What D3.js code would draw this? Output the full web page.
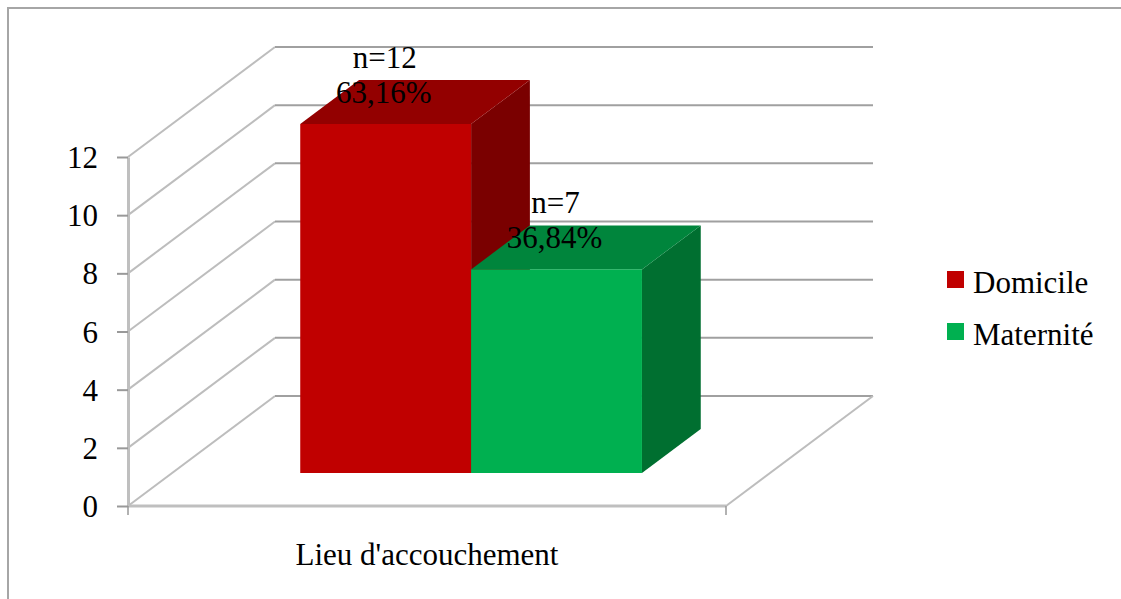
<!DOCTYPE html>
<html lang="fr">
<head>
<meta charset="UTF-8">
<title>Lieu d'accouchement</title>
<style>
    body { margin: 0; background: #fff; }
    svg { display: block; }
    text { font-family: "Liberation Serif", "Times New Roman", serif; fill: #000; }
</style>
</head>
<body>
<div id="chart"></div>
<script src="https://d3js.org/d3.v7.min.js"></script>
<script>
    // data
    const categories = ["Lieu d'accouchement"];
    const series = ["Domicile", "Maternité"];
    const values = [12, 7];
    const countLabels = ["n=12", "n=7"];
    const percentLabels = ["63,16%", "36,84%"];
    const yTicks = [0, 2, 4, 6, 8, 10, 12];
    const colors = ["#C00000", "#00B050"];
    const topColors = ["#930000", "#00853C"];
    const sideColors = ["#7A0000", "#006F30"];

    const W = 1121, H = 599;
    const FONT = "31px";
    const svg = d3.select("#chart").append("svg")
        .attr("width", W)
        .attr("height", H);

    // outer frame (right and bottom edges fall outside the picture)
    svg.append("rect")
        .attr("x", 8).attr("y", 8)
        .attr("width", 1300).attr("height", 800)
        .attr("fill", "none")
        .attr("stroke", "#a6a6a6")
        .attr("stroke-width", 2);

    // 3d projection: depth 0 = front plane, 1 = back wall
    const DX = 147, DY = 110;
    const y = d3.scaleLinear().domain([0, 12]).range([506, 157]);
    const x0 = d3.scaleBand().domain(categories).range([128, 726])
        .paddingInner(0).paddingOuter(0.375);
    const x1 = d3.scaleBand().domain(series).range([0, x0.bandwidth()]);
    const proj = (px, v, d) => [px + d * DX, y(v) - d * DY];

    const grid = svg.append("g");
    // side wall diagonals + back wall lines
    yTicks.forEach(v => {
        const a = proj(128, v, 0), b = proj(128, v, 1), c = proj(726, v, 1);
        grid.append("line")
            .attr("x1", a[0]).attr("y1", a[1]).attr("x2", b[0]).attr("y2", b[1])
            .attr("stroke", "#bdbdbd").attr("stroke-width", 2);
        grid.append("line")
            .attr("x1", b[0]).attr("y1", b[1]).attr("x2", c[0]).attr("y2", c[1])
            .attr("stroke", "#a0a0a0").attr("stroke-width", 2);
    });
    // floor right edge
    const f0 = proj(726, 0, 0), f1 = proj(726, 0, 1);
    grid.append("line")
        .attr("x1", f0[0]).attr("y1", f0[1]).attr("x2", f1[0]).attr("y2", f1[1])
        .attr("stroke", "#bdbdbd").attr("stroke-width", 2);

    // y axis
    const yAxis = svg.append("g")
        .attr("transform", "translate(128,0)")
        .call(d3.axisLeft(y).tickValues(yTicks).tickSize(11).tickSizeOuter(0).tickPadding(19));
    yAxis.attr("font-family", null).attr("font-size", null);
    yAxis.select(".domain").attr("stroke", "#bfbfbf").attr("stroke-width", 3);
    yAxis.selectAll(".tick line").attr("stroke", "#999").attr("stroke-width", 2);
    yAxis.selectAll(".tick text")
        .style("font-size", FONT)
        .attr("dy", "0.34em")
        .attr("fill", "#000");

    // floor front edge + ticks
    svg.append("line")
        .attr("x1", 128).attr("y1", y(0)).attr("x2", 726).attr("y2", y(0))
        .attr("stroke", "#bfbfbf").attr("stroke-width", 3);
    [128, 726].forEach(px => {
        svg.append("line")
            .attr("x1", px).attr("y1", y(0)).attr("x2", px).attr("y2", y(0) + 9)
            .attr("stroke", "#999").attr("stroke-width", 1.5);
    });

    // bars
    const dFront = 0.3, dBack = 0.7;
    const poly = pts => pts.map(p => p.join(",")).join(" ");
    const bars = svg.append("g");
    series.forEach((s, i) => {
        const xl = x0(categories[0]) + x1(s);
        const xr = xl + x1.bandwidth();
        const v = values[i];
        const g = bars.append("g");
        g.append("polygon")
            .attr("points", poly([proj(xr, 0, dFront), proj(xr, v, dFront), proj(xr, v, dBack), proj(xr, 0, dBack)]))
            .attr("fill", sideColors[i]);
        g.append("polygon")
            .attr("points", poly([proj(xl, v, dFront), proj(xr, v, dFront), proj(xr, v, dBack), proj(xl, v, dBack)]))
            .attr("fill", topColors[i]);
        const fl = proj(xl, v, dFront), fb = proj(xr, 0, dFront);
        g.append("rect")
            .attr("x", fl[0]).attr("y", fl[1])
            .attr("width", fb[0] - fl[0]).attr("height", fb[1] - fl[1])
            .attr("fill", colors[i]);
    });

    // data labels
    series.forEach((s, i) => {
        const cx = proj(x0(categories[0]) + x1(s) + x1.bandwidth() / 2, values[i], dFront);
        svg.append("text")
            .attr("x", cx[0] - 1).attr("y", cx[1] - 56)
            .attr("text-anchor", "middle")
            .style("font-size", FONT)
            .text(countLabels[i]);
        svg.append("text")
            .attr("x", cx[0] - 2).attr("y", cx[1] - 21)
            .attr("text-anchor", "middle")
            .style("font-size", FONT)
            .text(percentLabels[i]);
    });

    // category label
    svg.append("text")
        .attr("x", x0(categories[0]) + x0.bandwidth() / 2)
        .attr("y", 565)
        .attr("text-anchor", "middle")
        .style("font-size", FONT)
        .text(categories[0]);

    // legend
    const legend = svg.append("g").attr("transform", "translate(947,271)");
    series.forEach((s, i) => {
        const row = legend.append("g").attr("transform", "translate(0," + (i * 52) + ")");
        row.append("rect")
            .attr("width", 17).attr("height", 17)
            .attr("fill", colors[i]);
        row.append("text")
            .attr("x", 26).attr("y", 22)
            .style("font-size", FONT)
            .text(s);
    });
</script>
</body>
</html>
